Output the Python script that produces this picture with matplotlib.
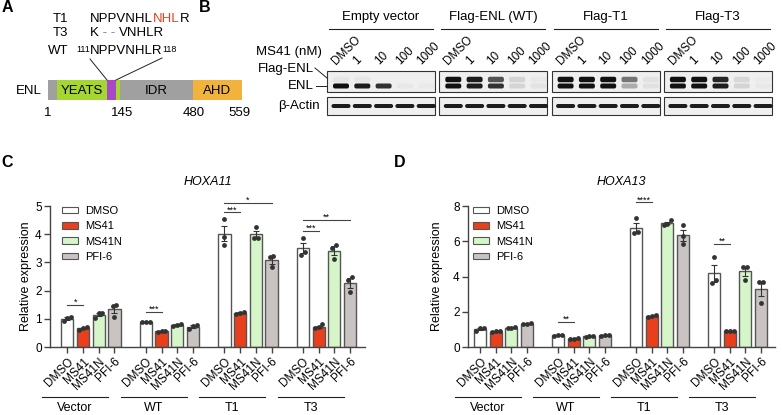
import matplotlib
matplotlib.use('Agg')
import matplotlib.pyplot as plt
import numpy as np
from matplotlib.patches import Rectangle, FancyBboxPatch, Patch

plt.rcParams['font.family'] = ['Liberation Sans', 'DejaVu Sans']

# ---------------- data ----------------
treatments = ['DMSO', 'MS41', 'MS41N', 'PFI-6']
constructs = ['Vector', 'WT', 'T1', 'T3']
bar_colors = ['#ffffff', '#e8401c', '#d6f5c9', '#c9c4c1']

# replicates, order: construct x treatment
hoxa11_reps = [
    [1.08, 0.92, 1.02], [0.62, 0.67, 0.70], [1.20, 1.20, 1.03], [1.48, 1.46, 1.05],
    [0.88, 0.90, 0.87], [0.55, 0.57, 0.54], [0.82, 0.77, 0.75], [0.79, 0.73, 0.64],
    [4.53, 3.90, 3.62], [1.25, 1.20, 1.18], [4.25, 3.88, 3.86], [3.21, 3.20, 2.82],
    [3.88, 3.38, 3.28], [0.80, 0.70, 0.66], [3.62, 3.50, 3.12], [2.50, 2.38, 1.94],
]
hoxa13_reps = [
    [1.08, 0.93, 1.05], [0.90, 0.85, 0.88], [1.12, 1.05, 1.10], [1.35, 1.30, 1.33],
    [0.70, 0.65, 0.68], [0.50, 0.45, 0.48], [0.62, 0.58, 0.63], [0.70, 0.63, 0.66],
    [7.34, 6.55, 6.45], [1.80, 1.75, 1.72], [7.20, 6.97, 6.95], [6.90, 6.27, 5.85],
    [5.13, 3.80, 3.63], [0.92, 0.90, 0.93], [4.56, 4.56, 3.80], [3.70, 3.70, 2.48],
]
# (bar i, bar j, height, label)
hoxa11_sig = [(0, 1, 1.50, '*'), (4, 5, 1.24, '***'), (8, 9, 4.77, '***'),
              (8, 11, 5.12, '*'), (12, 13, 4.13, '***'), (12, 15, 4.52, '**')]
hoxa13_sig = [(4, 5, 1.44, '**'), (8, 9, 8.20, '****'), (12, 13, 5.84, '**')]

# western blot
blot_groups = ['Empty vector', 'Flag-ENL (WT)', 'Flag-T1', 'Flag-T3']
lanes = ['DMSO', '1', '10', '100', '1000']
flag_band = [[0.04, 0.04, 0, 0, 0], [1, 0.95, 0.7, 0.12, 0.03],
             [1, 1, 1, 0.55, 0.06], [1, 1, 0.9, 0.1, 0.02]]
enl_band = [[1, 0.95, 0.85, 0.03, 0.02], [1, 0.95, 0.85, 0.12, 0.05],
            [1, 1, 1, 0.3, 0.06], [1, 1, 0.95, 0.12, 0.03]]
actin_band = [[0.95] * 5] * 4

# ENL domain schematic (drawn positions along the bar)
domain_names = ['', 'YEATS', '', '', 'IDR', 'AHD']
domain_x0 = [48, 57, 107, 116, 120, 193]
domain_x1 = [57, 107, 116, 120, 193, 242]
domain_colors = ['#a0a0a0', '#a6d632', '#a947c9', '#a6d632', '#a0a0a0', '#f1b33b']
residue_labels = ['1', '145', '480', '559']
residue_x = [48, 122, 194, 239]

fig = plt.figure(figsize=(7.83, 4.15), dpi=100)
W, H = 783, 415

# overlay in pixel units for panels A and B
ov = fig.add_axes([0, 0, 1, 1])
ov.set_xlim(0, W)
ov.set_ylim(H, 0)
ov.axis('off')

FS = 9.5
for lab, x, y in [('A', 2, 8), ('B', 199, 8), ('C', 1, 162), ('D', 394, 162)]:
    ov.text(x, y, lab, fontsize=11.5, fontweight='bold', ha='left', va='center')

# ---- panel A ----
for lab, y in [('T1', 18.5), ('T3', 33.5), ('WT', 51.5)]:
    ov.text(68, y, lab, fontsize=FS, ha='right', va='center')

t = ov.text(90, 18.5, 'NPPVNHL', fontsize=FS, va='center')
t = ov.annotate('NHL', xy=(1, 0.5), xycoords=t, fontsize=FS, va='center', color='#e8401c')
ov.annotate('R', xy=(1, 0.5), xycoords=t, fontsize=FS, va='center')

t = ov.text(90, 33.5, 'K', fontsize=FS, va='center')
t = ov.annotate(' - - ', xy=(1, 0.5), xycoords=t, fontsize=FS, va='center', color='#5b86d6')
ov.annotate('VNHLR', xy=(1, 0.5), xycoords=t, fontsize=FS, va='center')

t = ov.text(90, 51.5, 'NPPVNHLR', fontsize=FS, va='center')
ov.annotate('111', xy=(0, 1.0), xycoords=t, fontsize=6.5, ha='right', va='top')
ov.annotate('118', xy=(1, 1.0), xycoords=t, fontsize=6.5, ha='left', va='top')

ov.plot([90, 107], [59, 80], color='#222', lw=0.7)
ov.plot([162, 116], [58, 80], color='#222', lw=0.7)

for x0, x1, c, name in zip(domain_x0, domain_x1, domain_colors, domain_names):
    ov.add_patch(Rectangle((x0, 80), x1 - x0, 20, facecolor=c, edgecolor='none'))
    if name:
        ov.text((x0 + x1) / 2, 90.5, name, fontsize=FS, ha='center', va='center')
ov.text(42, 90.5, 'ENL', fontsize=FS, ha='right', va='center')
for lab, x in zip(residue_labels, residue_x):
    ov.text(x, 113, lab, fontsize=FS, ha='center', va='center')

# ---- panel B ----
box_x0 = [327 + 112.3 * g for g in range(4)]
box_w = 108
for g, name in enumerate(blot_groups):
    x0 = box_x0[g]
    ov.text(x0 + box_w / 2, 17, name, fontsize=FS, ha='center', va='center')
    ov.plot([x0 + 2, x0 + box_w - 2], [29, 29], color='#222', lw=0.8)
    for y0, h in [(71.5, 20.5), (97, 18)]:
        ov.add_patch(Rectangle((x0, y0), box_w, h, facecolor='#efefef',
                               edgecolor='#333', lw=0.8, zorder=1))
    for i, lane in enumerate(lanes):
        cx = x0 + 14 + 21.3 * i
        ov.text(cx - 5, 65, lane, fontsize=8.5, rotation=45, rotation_mode='anchor',
                ha='left', va='baseline')
        for vals, cy, h, w in [(flag_band, 79.5, 5.5, 16), (enl_band, 86.0, 5.0, 16),
                               (actin_band, 106, 4.0, 19)]:
            a = vals[g][i]
            if a > 0:
                ov.add_patch(FancyBboxPatch((cx - w / 2, cy - h / 2), w, h,
                                            boxstyle='round,pad=0,rounding_size=2',
                                            facecolor='#111111', edgecolor='none',
                                            alpha=a, zorder=2))

ov.text(322, 52, 'MS41 (nM)', fontsize=FS, ha='right', va='center')
ov.text(314, 69, 'Flag-ENL', fontsize=FS, ha='right', va='center')
ov.plot([315, 327], [68, 78], color='#222', lw=0.7)
ov.text(314, 86, 'ENL', fontsize=FS, ha='right', va='center')
ov.plot([316, 327], [86, 86], color='#222', lw=0.7)
ov.text(320, 106, 'β-Actin', fontsize=FS, ha='right', va='center')


# ---- panels C and D ----
def swarm(vals, tol, step=0.24):
    vals = np.asarray(vals)
    off = np.zeros(len(vals))
    order = np.argsort(vals)
    clusters, cur = [], [order[0]]
    for a, b in zip(order[:-1], order[1:]):
        if vals[b] - vals[a] < tol:
            cur.append(b)
        else:
            clusters.append(cur)
            cur = [b]
    clusters.append(cur)
    for c in clusters:
        for k, idx in enumerate(c):
            off[idx] = (k - (len(c) - 1) / 2) * step
    return off


def bar_panel(rect, reps, sig, ymax, yticks, title, xlim, ylab_x, leg_x):
    ax = fig.add_axes(rect)
    reps = np.array(reps)
    means = reps.mean(axis=1)
    sem = reps.std(axis=1, ddof=1) / np.sqrt(reps.shape[1])
    x = np.array([5 * g + i for g in range(len(constructs)) for i in range(len(treatments))])
    colors = bar_colors * len(constructs)
    ax.bar(x, means, width=0.78, color=colors, edgecolor='#555555', linewidth=1.0, zorder=2)
    ax.errorbar(x, means, yerr=sem, fmt='none', ecolor='#333333', elinewidth=0.8,
                capsize=2.5, capthick=0.8, zorder=3)
    for xi, r in zip(x, reps):
        ax.scatter(xi + swarm(r, ymax * 0.035), r, s=12, color='#333333', linewidths=0,
                   zorder=4, clip_on=False)
    for i, j, y, lab in sig:
        ax.plot([x[i], x[j]], [y, y], color='#444444', lw=0.8, clip_on=False)
        ax.annotate(lab, xy=((x[i] + x[j]) / 2, y), xytext=(0, -1.5),
                    textcoords='offset points', ha='center', va='bottom', fontsize=6.5,
                    annotation_clip=False)

    ax.set_xlim(*xlim)
    ax.set_ylim(0, ymax)
    for s in ['top', 'right']:
        ax.spines[s].set_visible(False)
    for s in ['left', 'bottom']:
        ax.spines[s].set_color('#444444')
        ax.spines[s].set_linewidth(1.0)
    ax.set_yticks(yticks)
    ax.tick_params(axis='both', length=4, width=1.0, color='#444444', labelsize=8.5, pad=2)
    ax.set_xticks(x)
    ax.set_xticklabels(treatments * len(constructs), rotation=45, ha='right',
                       rotation_mode='anchor')
    ax.set_ylabel('Relative expression', fontsize=9)
    ax.yaxis.set_label_coords(ylab_x, 0.5)
    ax.text(0.5, 1.17, title, transform=ax.transAxes, fontsize=9, style='italic',
            ha='center', va='center')

    tr = ax.get_xaxis_transform()
    for g, name in enumerate(constructs):
        ax.plot([5 * g - 1.6, 5 * g + 2.6], [-0.355, -0.355], transform=tr,
                color='#222222', lw=0.8, clip_on=False)
        ax.text(5 * g + 0.5, -0.43, name, transform=tr, fontsize=9,
                ha='center', va='center')

    handles = [Patch(facecolor=c, edgecolor='#555555', lw=0.8) for c in bar_colors]
    ax.legend(handles, treatments, loc='upper left', bbox_to_anchor=(leg_x, 1.0),
              frameon=False, fontsize=8, handlelength=1.45, handleheight=0.55,
              handletextpad=0.6, labelspacing=0.48, borderpad=0, borderaxespad=0)
    return ax


bar_panel([50 / W, (H - 347) / H, 315 / W, 141 / H], hoxa11_reps, hoxa11_sig, 5,
          [0, 1, 2, 3, 4, 5], 'HOXA11', (-1.1, 18.95), -0.057, 12 / 315)
bar_panel([468 / W, (H - 347) / H, 307 / W, 141 / H], hoxa13_reps, hoxa13_sig, 8,
          [0, 2, 4, 6, 8], 'HOXA13', (-0.78, 18.9), -0.081, 5 / 307)

fig.savefig('out.png', dpi=100)
